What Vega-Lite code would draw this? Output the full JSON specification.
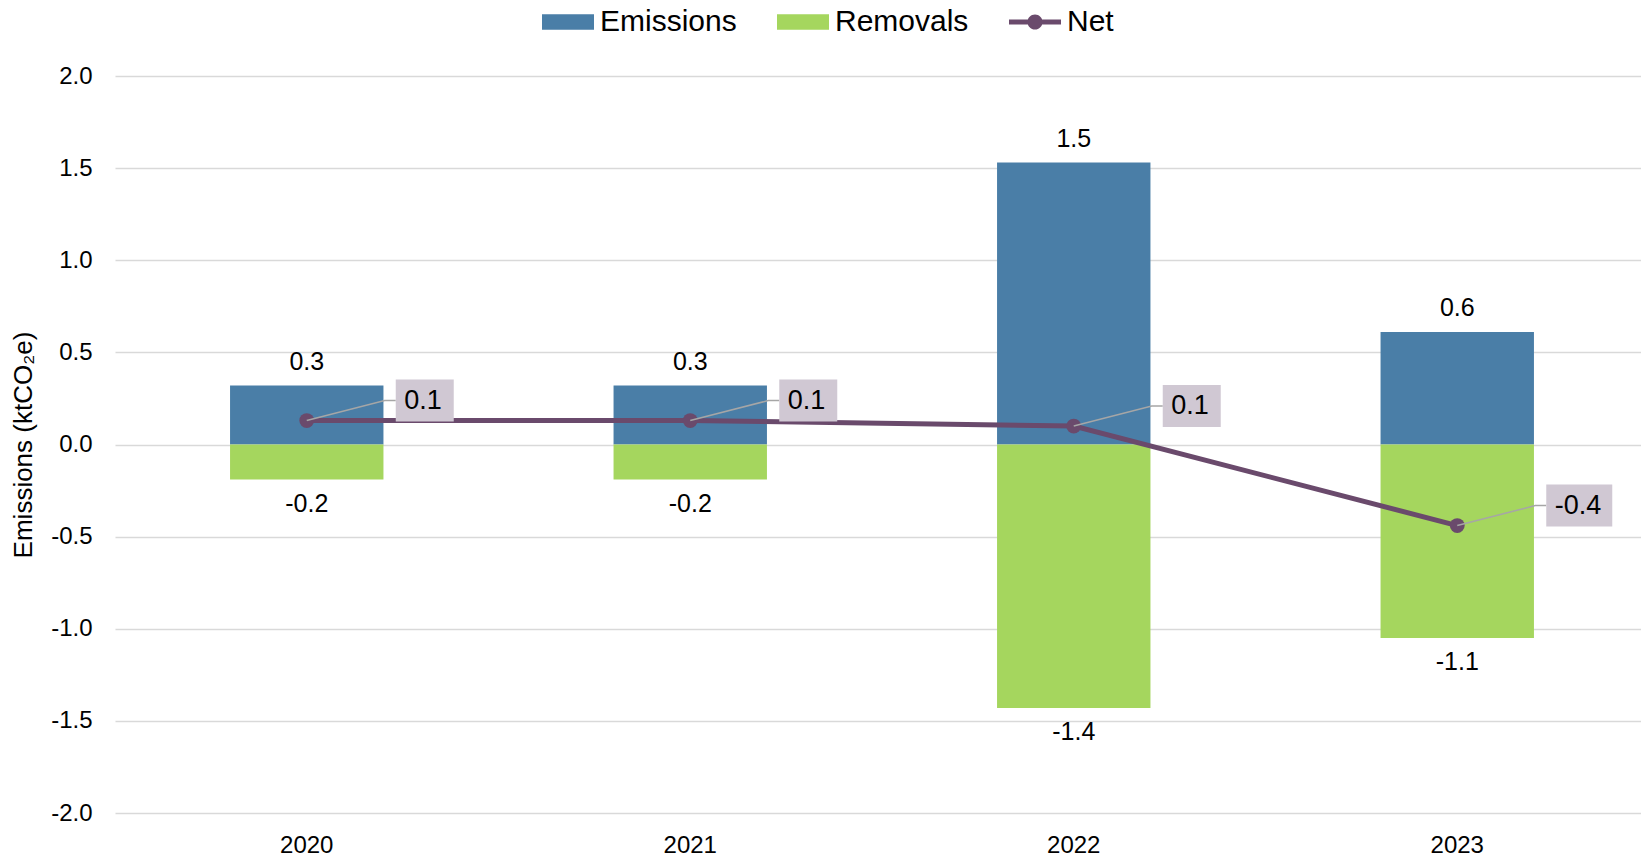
{
  "$schema": "https://vega.github.io/schema/vega-lite/v6.json",
  "autosize": {"type": "none"},
  "padding": {"left": 115, "top": 76, "right": 0, "bottom": 47},
  "width": 1526,
  "height": 737,
  "config": {
    "view": {"stroke": null},
    "font": "Liberation Sans",
    "axis": {"labelColor": "#000000", "titleColor": "#000000", "labelFont": "Liberation Sans", "titleFont": "Liberation Sans"},
    "legend": {"labelFont": "Liberation Sans", "labelColor": "#000000"},
    "locale": {"number": {"decimal": ".", "thousands": ",", "grouping": [3], "currency": ["$", ""], "minus": "-"}}
  },
  "data": {
    "values": [
      {"Year": "2020", "Series": "Emissions", "Value": 0.32},
      {"Year": "2020", "Series": "Removals", "Value": -0.19},
      {"Year": "2020", "Series": "Net", "Value": 0.13},
      {"Year": "2021", "Series": "Emissions", "Value": 0.32},
      {"Year": "2021", "Series": "Removals", "Value": -0.19},
      {"Year": "2021", "Series": "Net", "Value": 0.13},
      {"Year": "2022", "Series": "Emissions", "Value": 1.53},
      {"Year": "2022", "Series": "Removals", "Value": -1.43},
      {"Year": "2022", "Series": "Net", "Value": 0.10},
      {"Year": "2023", "Series": "Emissions", "Value": 0.61},
      {"Year": "2023", "Series": "Removals", "Value": -1.05},
      {"Year": "2023", "Series": "Net", "Value": -0.44}
    ]
  },
  "encoding": {
    "x": {
      "field": "Year", "type": "nominal",
      "scale": {"paddingInner": 0.6, "paddingOuter": 0.3, "range": [0, 1534]},
      "axis": {"title": null, "labelFontSize": 24, "labelPadding": 20, "ticks": false, "domain": false, "labelAngle": 0, "grid": false}
    },
    "y": {
      "field": "Value", "type": "quantitative", "stack": null,
      "scale": {"domain": [-2, 2], "nice": false},
      "axis": {
        "title": "Emissions (ktCO₂e)", "titleFontSize": 26, "titleFontWeight": "normal", "titlePadding": 14,
        "labelFontSize": 24, "labelPadding": 23, "ticks": false, "domain": false,
        "values": [-2, -1.5, -1, -0.5, 0, 0.5, 1, 1.5, 2], "format": ".1f",
        "gridColor": "#D9D9D9", "gridWidth": 1.5
      }
    }
  },
  "layer": [
    {
      "transform": [{"filter": "datum.Series !== 'Net'"}],
      "mark": {"type": "bar"},
      "encoding": {
        "color": {
          "field": "Series", "type": "nominal",
          "scale": {"domain": ["Emissions", "Removals", "Net"], "range": ["#4A7EA7", "#A5D65E", "#6A4A6C"]},
          "legend": {
            "title": null, "orient": "none", "direction": "horizontal",
            "legendX": 427, "legendY": -80, "padding": 0,
            "labelFontSize": 30, "symbolSize": 2704, "labelOffset": 6, "columnPadding": 40,
            "encode": {
              "symbols": {
                "update": {
                  "shape": [
                    {"test": "datum.value === 'Net'", "value": "M-1,-0.1H1V0.1H-1Z M0.29,0A0.29,0.29 0 1,1 -0.29,0A0.29,0.29 0 1,1 0.29,0Z"},
                    {"value": "M-1,-0.3H1V0.3H-1Z"}
                  ],
                  "fill": {"scale": "color", "field": "value"},
                  "stroke": {"value": "transparent"},
                  "strokeWidth": {"value": 0},
                  "opacity": {"value": 1},
                  "fillOpacity": {"value": 1}
                }
              }
            }
          }
        }
      }
    },
    {
      "transform": [{"filter": "datum.Series === 'Emissions'"}],
      "mark": {"type": "text", "baseline": "alphabetic", "dy": -16, "fontSize": 25, "color": "#000000"},
      "encoding": {"text": {"field": "Value", "type": "quantitative", "format": ".1f"}}
    },
    {
      "transform": [{"filter": "datum.Series === 'Removals'"}],
      "mark": {"type": "text", "baseline": "alphabetic", "dy": 32, "fontSize": 25, "color": "#000000"},
      "encoding": {"text": {"field": "Value", "type": "quantitative", "format": ".1f"}}
    },
    {
      "transform": [{"filter": "datum.Series === 'Net'"}],
      "mark": {"type": "line", "strokeWidth": 5, "point": {"filled": true, "size": 220, "opacity": 1}},
      "encoding": {"color": {"field": "Series", "type": "nominal"}}
    },
    {
      "transform": [{"filter": "datum.Series === 'Net'"}],
      "mark": {"type": "point", "filled": false, "color": "#A6A6A6", "strokeWidth": 1.5, "size": 40000, "opacity": 1, "shape": "M0,0L0.78,-0.2L0.89,-0.2"},
      "encoding": {}
    },
    {
      "transform": [{"filter": "datum.Series === 'Net'"}],
      "mark": {"type": "point", "filled": true, "color": "#D0C8D3", "size": 40000, "opacity": 1, "strokeWidth": 0},
      "encoding": {
        "shape": {
          "condition": {"test": "datum.Value < 0", "value": "M0.89,-0.41H1.55V0.01H0.89Z"},
          "value": "M0.89,-0.41H1.47V0.01H0.89Z"
        }
      }
    },
    {
      "transform": [{"filter": "datum.Series === 'Net'"}],
      "mark": {"type": "text", "align": "left", "baseline": "middle", "dx": 97.5, "dy": -20, "fontSize": 27, "color": "#000000"},
      "encoding": {"text": {"field": "Value", "type": "quantitative", "format": ".1f"}}
    }
  ]
}
